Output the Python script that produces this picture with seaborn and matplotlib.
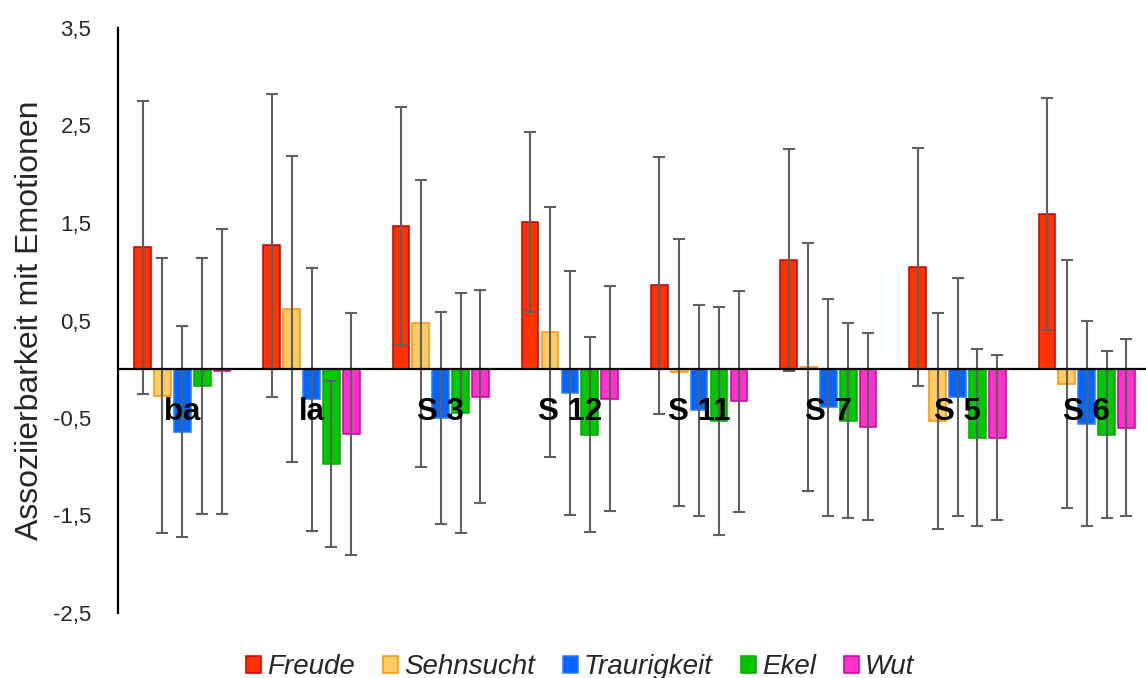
import matplotlib
matplotlib.use("Agg")
import matplotlib.pyplot as plt
import seaborn as sns
import pandas as pd
import numpy as np
from matplotlib.patches import Patch

categories = ['ba', 'la', 'S 3', 'S 12', 'S 11', 'S 7', 'S 5', 'S 6']
emotions = ['Freude', 'Sehnsucht', 'Traurigkeit', 'Ekel', 'Wut']

freude = [1.25, 1.27, 1.47, 1.51, 0.86, 1.12, 1.05, 1.59]
freude_sd = [1.50, 1.55, 1.22, 0.92, 1.32, 1.14, 1.22, 1.19]
sehnsucht = [-0.27, 0.62, 0.47, 0.38, -0.03, 0.02, -0.53, -0.15]
sehnsucht_sd = [1.41, 1.57, 1.47, 1.28, 1.37, 1.27, 1.11, 1.27]
traurigkeit = [-0.64, -0.31, -0.50, -0.24, -0.42, -0.39, -0.28, -0.56]
traurigkeit_sd = [1.08, 1.35, 1.09, 1.25, 1.08, 1.11, 1.22, 1.05]
ekel = [-0.17, -0.97, -0.45, -0.67, -0.53, -0.53, -0.70, -0.67]
ekel_sd = [1.31, 0.85, 1.23, 1.00, 1.17, 1.00, 0.91, 0.86]
wut = [-0.02, -0.66, -0.28, -0.30, -0.33, -0.59, -0.70, -0.60]
wut_sd = [1.46, 1.24, 1.09, 1.15, 1.13, 0.96, 0.85, 0.91]

yticks = [-2.5, -1.5, -0.5, 0.5, 1.5, 2.5, 3.5]
ytick_labels = ['-2,5', '-1,5', '-0,5', '0,5', '1,5', '2,5', '3,5']
ylabel = 'Assoziierbarkeit mit Emotionen'

means = {'Freude': freude, 'Sehnsucht': sehnsucht, 'Traurigkeit': traurigkeit,
         'Ekel': ekel, 'Wut': wut}
sds = {'Freude': freude_sd, 'Sehnsucht': sehnsucht_sd, 'Traurigkeit': traurigkeit_sd,
       'Ekel': ekel_sd, 'Wut': wut_sd}

fill = {'Freude': '#FF3300', 'Sehnsucht': '#FFCC66', 'Traurigkeit': '#0066FF',
        'Ekel': '#00C800', 'Wut': '#FF33CC'}
edge = {'Freude': '#C80000', 'Sehnsucht': '#FF9000', 'Traurigkeit': '#2A7BFF',
        'Ekel': '#00A800', 'Wut': '#CC0099'}

rows = []
for e in emotions:
    for c, v in zip(categories, means[e]):
        rows.append({'Kategorie': c, 'Emotion': e, 'Wert': v})
df = pd.DataFrame(rows)

sns.set_style('white')
plt.rcParams['font.family'] = ['Liberation Sans', 'DejaVu Sans']

fig = plt.figure(figsize=(11.46, 6.78), dpi=100)
W, H = 1146, 678
x0, ytop, ybot = 117.7, 28, 613
grp = 129.2
xmax_units = 7.5 - (x0 + 8 * grp - W) / grp
ax = fig.add_axes([x0 / W, (H - ybot) / H, (W - x0) / W, (ybot - ytop) / H])

sns.barplot(data=df, x='Kategorie', y='Wert', hue='Emotion', order=categories,
            hue_order=emotions, palette=fill, width=0.77, gap=0.16,
            errorbar=None, legend=False, ax=ax, saturation=1)

for cont, e in zip(ax.containers, emotions):
    xs, hs = [], []
    for p in cont.patches:
        p.set_edgecolor(edge[e])
        p.set_linewidth(1.1)
        xs.append(p.get_x() + p.get_width() / 2)
        hs.append(p.get_height())
    ax.errorbar(xs, hs, yerr=sds[e], fmt='none', ecolor='#5f5f5f',
                elinewidth=1.5, capsize=4.5, capthick=1.5, zorder=5)

ax.axhline(0, color='black', lw=1.6, zorder=6, clip_on=False)
ax.set_xlim(-0.5, xmax_units)
ax.set_ylim(-2.5, 3.5)
ax.set_yticks(yticks)
ax.set_yticklabels(ytick_labels, fontsize=16)
ax.tick_params(axis='y', length=0, pad=19)
ax.set_xticks([])
ax.set_xlabel('')
ax.set_ylabel(ylabel, fontsize=23, labelpad=6)
for s in ['top', 'right', 'bottom']:
    ax.spines[s].set_visible(False)
ax.spines['left'].set_color('black')
ax.spines['left'].set_linewidth(1.6)

for i, c in enumerate(categories):
    ax.annotate(c, (i, 0), xytext=(0, -51), textcoords='offset pixels',
                ha='center', va='baseline', fontsize=22.5, fontweight='bold',
                color='black', zorder=7)

handles = [Patch(facecolor=fill[e], edgecolor=edge[e], linewidth=1.1, label=e)
           for e in emotions]
fig.legend(handles=handles, loc='center', bbox_to_anchor=(580 / W, 0.016),
           ncol=5, frameon=False, prop={'size': 20, 'style': 'italic'},
           handlelength=0.55, handleheight=0.55, handletextpad=0.22,
           columnspacing=1.0, borderpad=0)

fig.savefig('out.png', dpi=100)
